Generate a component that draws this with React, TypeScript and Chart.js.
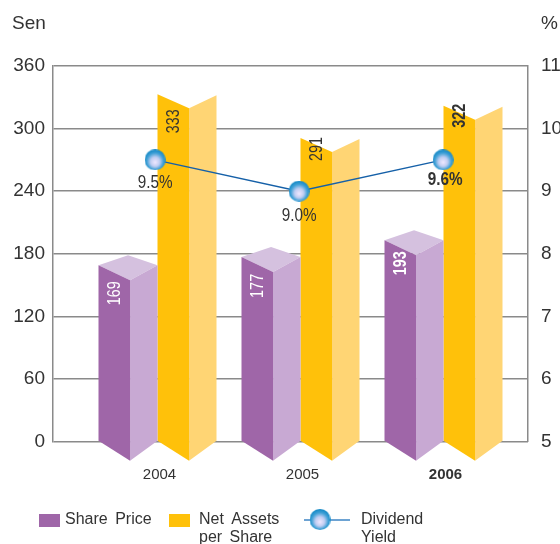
import React, { useEffect, useRef } from "react";
import { Chart, registerables, BarController, BarElement } from "chart.js";

const years = [2004, 2005, 2006];
const sharePrice = [169, 177, 193];
const netAssets = [333, 291, 322];
// The markers sit where they are drawn in the picture: the 2006 one is level with 2004 although labelled 9.6%.
const yieldPositions = [9.5, 9.0, 9.5];
const yieldYears = [2003.983, 2004.99, 2005.997];
const yieldLabels = ["9.5%", "9.0%", "9.6%"];
const leftTicks = [0, 60, 120, 180, 240, 300, 360];
const rightTicks = [5, 6, 7, 8, 9, 10, 11];

const PURPLE = "#9F66A8";
const GOLD = "#FFC10A";
const BLUE = "#1560A8";
const TEXT = "#333333";
const FONT = '"Liberation Sans", Arial, sans-serif';
const faces: Record<string, { side: string; top?: string; depth: number }> = {
  [PURPLE]: { side: "#C8A9D3", top: "#D5C1DF", depth: 15 },
  [GOLD]: { side: "#FFD574", depth: 14 },
};

class Prism extends BarElement {
  static id = "prism";
  draw(ctx: CanvasRenderingContext2D) {
    const { x, y, base, width } = (this as any).getProps(["x", "y", "base", "width"]);
    const color = (this as any).options.backgroundColor as string;
    const f = faces[color];
    const l = x - width / 2;
    const r = x + width / 2;
    const m = l + width * 0.535;
    const drop = 20;
    const poly = (pts: number[][], fill: string) => {
      ctx.fillStyle = fill;
      ctx.beginPath();
      pts.forEach((p, i) => (i ? ctx.lineTo(p[0], p[1]) : ctx.moveTo(p[0], p[1])));
      ctx.closePath();
      ctx.fill();
    };
    ctx.save();
    if (f.top) poly([[l, y], [m - 2, y - 10], [r, y], [m, y + f.depth]], f.top);
    poly([[m, y + f.depth], [r, y + (f.top ? 0 : 1)], [r, base], [m, base + drop]], f.side);
    poly([[l, y], [m, y + f.depth], [m, base + drop], [l, base]], color);
    ctx.restore();
  }
}
class PrismController extends BarController {
  static id = "prismBar";
  static defaults = { ...(BarController as any).defaults, dataElementType: "prism" };
}
Chart.register(...registerables, Prism as any, PrismController as any);

const barLabelOffsets = [[28, 29, 23], [27, 11, 10]];
const barLabelColors = ["#FFFFFF", "#333333"];
const yieldLabelShift = [[0, 23], [0, 25], [2, 20]];

function sphere(size: number) {
  const c = document.createElement("canvas");
  c.width = size;
  c.height = size;
  const g = c.getContext("2d")!;
  const r = size / 2;
  const grad = g.createRadialGradient(r, r * 1.25, 0, r, r * 1.1, r * 1.1);
  grad.addColorStop(0, "#F0E8FF");
  grad.addColorStop(0.4, "#BFCDF2");
  grad.addColorStop(0.72, "#3FA0D6");
  grad.addColorStop(1, "#0F86C4");
  g.fillStyle = grad;
  g.beginPath();
  g.arc(r, r, r, 0, Math.PI * 2);
  g.fill();
  return c;
}

const annotations = {
  id: "annotations",
  afterDatasetsDraw(chart: any) {
    const { ctx } = chart;
    ctx.save();
    ctx.textBaseline = "middle";
    [0, 1].forEach((d) => {
      chart.getDatasetMeta(d).data.forEach((el: any, i: number) => {
        const m = el.width * 0.535;
        const cx = el.x - el.width / 2 + (m * 16) / 31;
        ctx.save();
        ctx.translate(cx, el.y + barLabelOffsets[d][i]);
        ctx.rotate(-Math.PI / 2);
        ctx.scale(0.8, 1);
        ctx.textAlign = "center";
        ctx.fillStyle = barLabelColors[d];
        ctx.font = `${i === 2 ? "bold " : ""}18px ${FONT}`;
        ctx.fillText(String(chart.data.datasets[d].data[i].y), 0, 0);
        ctx.restore();
      });
    });
    chart.getDatasetMeta(2).data.forEach((el: any, i: number) => {
      ctx.save();
      ctx.translate(el.x + yieldLabelShift[i][0], el.y + yieldLabelShift[i][1]);
      ctx.scale(0.85, 1);
      ctx.textAlign = "center";
      ctx.fillStyle = TEXT;
      ctx.font = `${i === 2 ? "bold " : ""}18px ${FONT}`;
      ctx.fillText(yieldLabels[i], 0, 0);
      ctx.restore();
    });

    ctx.font = `19px ${FONT}`;
    ctx.fillStyle = TEXT;
    ctx.textAlign = "left";
    ctx.fillText("Sen", 12, 24);
    ctx.fillText("%", 541, 24);

    ctx.font = `16px ${FONT}`;
    (ctx as any).wordSpacing = "3px";
    const lineH = 18;
    ctx.fillStyle = PURPLE;
    ctx.fillRect(39, 514, 21, 13);
    ctx.fillStyle = GOLD;
    ctx.fillRect(169, 514, 21, 13);
    ctx.strokeStyle = "#3C84C4";
    ctx.lineWidth = 1.5;
    ctx.beginPath();
    ctx.moveTo(304, 520);
    ctx.lineTo(350, 520);
    ctx.stroke();
    ctx.drawImage(sphere(21), 309.5, 509);
    ctx.fillStyle = TEXT;
    ctx.fillText(chart.data.datasets[0].label, 65, 520);
    ["Net Assets", "per Share"].forEach((t, i) => ctx.fillText(t, 199, 520 + i * lineH));
    ["Dividend", "Yield"].forEach((t, i) => ctx.fillText(t, 361, 520 + i * lineH));
    (ctx as any).wordSpacing = "0px";
    ctx.restore();
  },
};

export default function App() {
  const ref = useRef<HTMLCanvasElement>(null);
  useEffect(() => {
    const toXY = (vals: number[], xs: number[]) => vals.map((y, i) => ({ x: xs[i], y }));
    const barCommon = { categoryPercentage: 118 / 143, barPercentage: 1, clip: false as any, order: 2 };
    const chart = new Chart(ref.current!, {
      type: "prismBar" as any,
      data: {
        datasets: [
          { label: "Share Price", data: toXY(sharePrice, years), backgroundColor: PURPLE, ...barCommon },
          { label: "Net Assets per Share", data: toXY(netAssets, years), backgroundColor: GOLD, ...barCommon },
          {
            type: "line",
            label: "Dividend Yield",
            data: toXY(yieldPositions, yieldYears),
            yAxisID: "y1",
            borderColor: BLUE,
            borderWidth: 1.5,
            pointStyle: sphere(21) as any,
            pointRadius: 10.5,
            clip: false as any,
            order: 0,
          },
        ] as any,
      },
      options: {
        animation: false,
        responsive: false,
        devicePixelRatio: 1,
        layout: { padding: { top: 66, left: 0, right: 0, bottom: 0 } },
        plugins: { legend: { display: false }, tooltip: { enabled: false } },
        scales: {
          x: {
            type: "linear",
            offset: false,
            min: 2004 - 104.5 / 143,
            max: 2006 + 84.5 / 143,
            grid: { display: false, offset: false },
            border: { display: false },
            afterBuildTicks: (a: any) => {
              a.ticks = years.map((value) => ({ value }));
            },
            afterFit: (a: any) => {
              a.height = 544 - 441.5;
            },
            ticks: {
              autoSkip: false,
              maxRotation: 0,
              padding: 16,
              labelOffset: 2,
              color: TEXT,
              callback: (v: any) => String(v),
              font: (c: any) => ({ family: FONT, size: 15, weight: c.tick && c.tick.value === 2006 ? "bold" : "normal" }),
            },
          },
          y: {
            type: "linear",
            position: "left",
            min: 0,
            max: 360,
            afterBuildTicks: (a: any) => {
              a.ticks = leftTicks.map((value) => ({ value }));
            },
            afterFit: (a: any) => {
              a.width = 53;
            },
            grid: { color: "#8A8A8A", lineWidth: 1.5, drawTicks: false },
            border: { display: true, color: "#8A8A8A", width: 1.5 },
            ticks: { color: TEXT, padding: 8, font: { family: FONT, size: 19 } },
          },
          y1: {
            type: "linear",
            position: "right",
            min: 5,
            max: 11,
            afterBuildTicks: (a: any) => {
              a.ticks = rightTicks.map((value) => ({ value }));
            },
            afterFit: (a: any) => {
              a.width = 32;
            },
            grid: { display: false, drawTicks: false },
            border: { display: true, color: "#8A8A8A", width: 1.5 },
            ticks: { color: TEXT, padding: 13, font: { family: FONT, size: 19 } },
          },
        },
      } as any,
      plugins: [annotations as any],
    });
    return () => chart.destroy();
  }, []);
  return (
    <div style={{ position: "absolute", left: 0, top: 0, width: 560, height: 544, background: "#fff" }}>
      <canvas ref={ref} width={560} height={544} style={{ display: "block" }} />
    </div>
  );
}
